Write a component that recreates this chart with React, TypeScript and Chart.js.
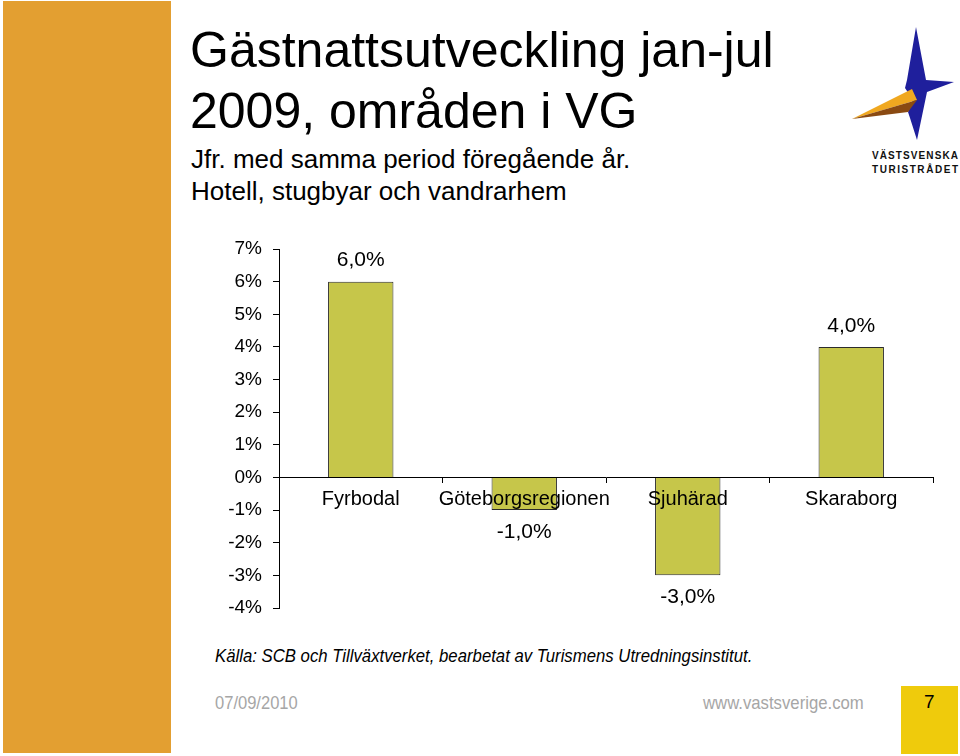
import React, { useEffect, useRef } from "react";
import { Chart, registerables } from "chart.js";

Chart.register(...registerables);

// ---- Data ----
const categories = ["Fyrbodal", "Göteborgsregionen", "Sjuhärad", "Skaraborg"];
const changeValues = [6.0, -1.0, -3.0, 4.0];
const yMin = -4;
const yMax = 7;
const yStep = 1;

const titleLines = ["Gästnattsutveckling jan-jul", "2009, områden i VG"];
const subtitleLines = ["Jfr. med samma period föregående år.", "Hotell, stugbyar och vandrarhem"];
const sourceText = "Källa: SCB och Tillväxtverket, bearbetat av Turismens Utredningsinstitut.";
const footerDate = "07/09/2010";
const footerUrl = "www.vastsverige.com";
const pageNumber = "7";

const FONT = "'Liberation Sans', Arial, Helvetica, sans-serif";

const formatPct = (v: number) => v.toFixed(1).replace(".", ",") + "%";

const valueLabelPlugin = {
  id: "valueLabels",
  afterDatasetsDraw(chart: any) {
    const ctx = chart.ctx;
    const meta = chart.getDatasetMeta(0);
    ctx.save();
    ctx.font = `21px ${FONT}`;
    ctx.fillStyle = "#000";
    ctx.textAlign = "center";
    ctx.textBaseline = "middle";
    meta.data.forEach((el: any, i: number) => {
      const v = changeValues[i];
      const y = v >= 0 ? el.y - 21 : el.y + 22;
      ctx.fillText(formatPct(v), el.x, y);
    });
    ctx.restore();
  },
};

function BarChart() {
  const ref = useRef<HTMLCanvasElement | null>(null);
  useEffect(() => {
    if (!ref.current) return;
    const chart = new Chart(ref.current, {
      type: "bar",
      data: {
        labels: categories,
        datasets: [
          {
            data: changeValues,
            backgroundColor: "#C6C64A",
            borderColor: "#2b2b2b",
            borderWidth: 1,
            barPercentage: 0.4,
            categoryPercentage: 1,
          },
        ],
      },
      options: {
        responsive: false,
        animation: false,
        layout: { padding: { top: 19, bottom: 22, right: 27, left: 0 } },
        plugins: { legend: { display: false }, tooltip: { enabled: false } },
        scales: {
          x: {
            type: "category",
            position: { y: 0 } as any,
            offset: true,
            grid: {
              offset: true,
              drawOnChartArea: false,
              drawTicks: true,
              tickLength: 5,
              color: "#000",
              tickColor: "#000",
            },
            border: { display: true, color: "#000", width: 1 },
            ticks: {
              z: 1,
              color: "#000",
              font: { size: 20, family: FONT },
              padding: 5,
              maxRotation: 0,
              minRotation: 0,
              autoSkip: false,
            } as any,
          },
          y: {
            min: yMin,
            max: yMax,
            ticks: {
              stepSize: yStep,
              callback: (v: any) => v + "%",
              color: "#000",
              font: { size: 19, family: FONT },
              padding: 11,
            },
            grid: {
              drawOnChartArea: false,
              tickLength: 6,
              color: "#000",
              tickColor: "#000",
            },
            border: { display: true, color: "#000", width: 1 },
            afterFit: (s: any) => {
              s.width = 99;
              s.paddingTop = 0;
              s.paddingBottom = 0;
            },
          },
        },
      },
      plugins: [valueLabelPlugin],
    });
    return () => chart.destroy();
  }, []);
  return (
    <canvas
      ref={ref}
      width={780}
      height={400}
      style={{ position: "absolute", left: 180, top: 230, width: 780, height: 400 }}
    />
  );
}

function Logo() {
  return (
    <svg
      width={120}
      height={160}
      viewBox="840 20 120 160"
      style={{ position: "absolute", left: 840, top: 20 }}
    >
      <polygon
        points="916,27 926,80 954,82 927,92 917,140 910,118 908,112 913,100 905,88 907,80"
        fill="#1F1F9C"
      />
      <polygon points="852,119 912,89 917,100" fill="#F0A820" />
      <polygon points="852,119 917,100 908,112" fill="#8A4A12" />
      <text
        x={872}
        y={159}
        fontFamily={FONT}
        fontSize={10}
        fontWeight="bold"
        textLength={86}
        lengthAdjust="spacing"
        fill="#111"
      >
        VÄSTSVENSKA
      </text>
      <text
        x={872}
        y={173}
        fontFamily={FONT}
        fontSize={10}
        fontWeight="bold"
        textLength={86}
        lengthAdjust="spacing"
        fill="#111"
      >
        TURISTRÅDET
      </text>
    </svg>
  );
}

const line = (
  text: string,
  left: number,
  top: number,
  size: number,
  extra: React.CSSProperties = {}
) => (
  <div
    style={{
      position: "absolute",
      left,
      top,
      fontSize: size,
      lineHeight: 1,
      whiteSpace: "nowrap",
      fontFamily: FONT,
      transformOrigin: "left top",
      ...extra,
    }}
  >
    {text}
  </div>
);

export default function App() {
  return (
    <div
      style={{
        position: "fixed",
        left: 0,
        top: 0,
        width: 960,
        height: 756,
        background: "#fff",
        overflow: "hidden",
        fontFamily: FONT,
        color: "#000",
      }}
    >
      <div
        style={{
          position: "absolute",
          left: 3,
          top: 1,
          width: 168,
          height: 752,
          background: "#E39F31",
        }}
      />
      {line(titleLines[0], 190, 25, 50)}
      {line(titleLines[1], 190, 86, 50)}
      {line(subtitleLines[0], 191, 146, 26)}
      {line(subtitleLines[1], 191, 178, 26)}
      <Logo />
      <BarChart />
      {line(sourceText, 215, 647, 18, { fontStyle: "italic", transform: "scaleX(0.93)" })}
      {line(footerDate, 215, 693, 19, { color: "#A6A6A6", transform: "scaleX(0.87)" })}
      {line(footerUrl, 703, 693, 19, { color: "#A6A6A6", transform: "scaleX(0.88)" })}
      <div
        style={{
          position: "absolute",
          left: 901,
          top: 686,
          width: 57,
          height: 68,
          background: "#EFCB0C",
        }}
      />
      {line(pageNumber, 924, 692, 19)}
    </div>
  );
}
